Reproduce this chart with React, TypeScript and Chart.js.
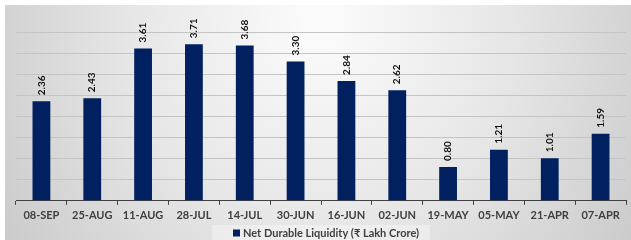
import React, { useEffect, useRef } from "react";
import { Chart, registerables } from "chart.js";

Chart.register(...registerables);

const categories = ["08-SEP", "25-AUG", "11-AUG", "28-JUL", "14-JUL", "30-JUN", "16-JUN", "02-JUN", "19-MAY", "05-MAY", "21-APR", "07-APR"];
const liquidity = [2.36, 2.43, 3.61, 3.71, 3.68, 3.3, 2.84, 2.62, 0.8, 1.21, 1.01, 1.59];
const seriesName = "Net Durable Liquidity (₹ Lakh Crore)";

const FONT = "Lato, 'Open Sans', sans-serif";
const BAR_COLOR = "#002060";

const bgPlugin = {
  id: "bgPlugin",
  beforeDraw(chart: any) {
    const { ctx, width, height } = chart;
    ctx.save();
    ctx.fillStyle = "#ffffff";
    ctx.fillRect(0, 0, width, height);
    const g = ctx.createRadialGradient(320, 20, 10, 320, 60, 420);
    g.addColorStop(0, "#fbfbfb");
    g.addColorStop(0.45, "#e6e6e6");
    g.addColorStop(1, "#c2c2c2");
    ctx.fillStyle = g;
    ctx.fillRect(5, 5, width - 5, height - 5);
    ctx.restore();
  },
  afterDraw(chart: any) {
    const { ctx } = chart;
    ctx.save();
    ctx.fillStyle = "rgba(255,255,255,0.35)";
    ctx.fillRect(212, 225, 218, 15);
    ctx.fillStyle = BAR_COLOR;
    ctx.fillRect(233, 229.5, 7, 7);
    ctx.font = `bold 11px ${FONT}`;
    ctx.fillStyle = "#404040";
    ctx.textAlign = "left";
    ctx.textBaseline = "middle";
    ctx.fillText(chart.data.datasets[0].label, 243, 233);
    ctx.restore();
  },
};

const labelPlugin = {
  id: "labelPlugin",
  afterDatasetsDraw(chart: any) {
    const { ctx } = chart;
    const meta = chart.getDatasetMeta(0);
    ctx.save();
    ctx.font = `bold 10px ${FONT}`;
    ctx.fillStyle = "#111111";
    ctx.textAlign = "left";
    ctx.textBaseline = "middle";
    meta.data.forEach((bar: any, i: number) => {
      const v = liquidity[i];
      ctx.save();
      ctx.translate(bar.x, bar.y - 6);
      ctx.rotate(-Math.PI / 2);
      ctx.fillText(v.toFixed(2), 0, 0);
      ctx.restore();
    });
    ctx.restore();
  },
};

export default function App() {
  const ref = useRef<HTMLCanvasElement>(null);
  useEffect(() => {
    document.body.style.margin = "0";
    const chart = new Chart(ref.current!, {
      type: "bar",
      data: {
        labels: categories,
        datasets: [
          {
            label: seriesName,
            data: liquidity,
            backgroundColor: BAR_COLOR,
            borderWidth: 0,
            categoryPercentage: 1,
            barPercentage: 0.35,
          },
        ],
      },
      options: {
        animation: false,
        responsive: false,
        maintainAspectRatio: false,
        layout: { padding: { left: 16, right: 5, top: 32, bottom: 14 } },
        plugins: {
          legend: { display: false },
          tooltip: { enabled: false },
        },
        scales: {
          x: {
            grid: {
              display: true,
              drawOnChartArea: false,
              drawTicks: true,
              tickLength: 4,
              color: "#404040",
              offset: true,
            },
            border: { display: true, color: "#404040", width: 1 },
            ticks: {
              color: "#404040",
              font: { family: FONT, size: 11, weight: "bold", lineHeight: 1.2 },
              maxRotation: 0,
              autoSkip: false,
              padding: 4,
            },
          },
          y: {
            min: 0,
            max: 4,
            display: true,
            ticks: { display: false, stepSize: 0.5 },
            grid: { color: "#c4c4c4", drawTicks: false, lineWidth: 1 },
            border: { display: false },
          },
        },
      },
      plugins: [bgPlugin, labelPlugin],
    });
    return () => chart.destroy();
  }, []);
  return (
    <div style={{ width: 631, height: 240 }}>
      <canvas ref={ref} width={631} height={240} style={{ display: "block" }} />
    </div>
  );
}
